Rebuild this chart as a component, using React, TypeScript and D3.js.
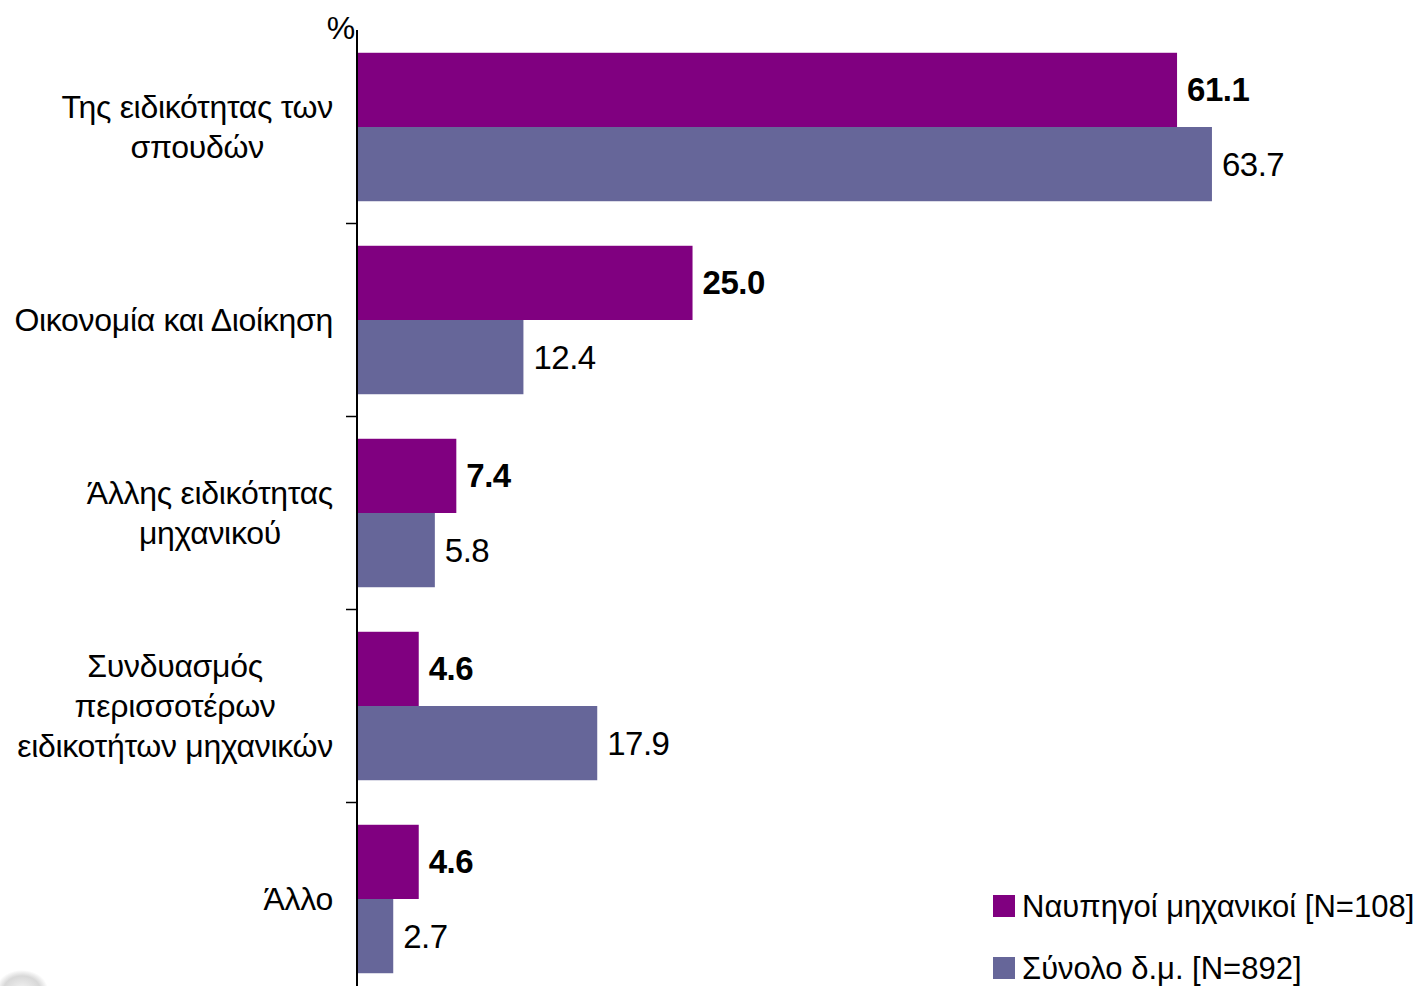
import React, { useEffect, useRef } from 'react';
import * as d3 from 'd3';

const categories: string[][] = [
    ['Της ειδικότητας των', 'σπουδών'],
    ['Οικονομία και Διοίκηση'],
    ['Άλλης ειδικότητας', 'μηχανικού'],
    ['Συνδυασμός', 'περισσοτέρων', 'ειδικοτήτων μηχανικών'],
    ['Άλλο'],
];
const seriesNames = ['Ναυπηγοί μηχανικοί [Ν=108]', 'Σύνολο δ.μ. [Ν=892]'];
const naval = [61.1, 25.0, 7.4, 4.6, 4.6];
const total = [63.7, 12.4, 5.8, 17.9, 2.7];
const colors = ['#800080', '#666699'];

const App: React.FC = () => {
    const svgRef = useRef<SVGSVGElement>(null);

    useEffect(() => {
        if (!svgRef.current) return;
        const svg = d3.select(svgRef.current);
        svg.selectAll('*').remove();

        const width = 1420;
        const height = 986;
        const font = '"Liberation Sans", Arial, sans-serif';
        const keys = categories.map((_, i) => String(i));

        // Scales
        const x = d3.scaleLinear().domain([0, 70]).range([357, 1296.5]);
        const y = d3.scaleBand<string>().domain(keys).range([30.5, 995.5]);
        const ySub = d3.scaleBand<number>()
            .domain([0, 1])
            .range([0, y.bandwidth()])
            .paddingInner(0)
            .paddingOuter(0.3);

        svg.attr('width', width).attr('height', height);

        // faint logo remnant in the bottom-left corner
        const defs = svg.append('defs');
        const grad = defs.append('radialGradient').attr('id', 'logoGrad');
        grad.append('stop').attr('offset', '0%').attr('stop-color', '#f4f4f4');
        grad.append('stop').attr('offset', '70%').attr('stop-color', '#d8d8d8');
        grad.append('stop').attr('offset', '100%').attr('stop-color', '#fff');
        svg.append('ellipse')
            .attr('cx', 22).attr('cy', 990)
            .attr('rx', 26).attr('ry', 20)
            .attr('fill', 'url(#logoGrad)');

        // Bars
        const groups = svg.selectAll('g.cat')
            .data(keys)
            .enter()
            .append('g')
            .attr('class', 'cat')
            .attr('transform', k => `translate(0, ${y(k)})`);

        [naval, total].forEach((values, s) => {
            groups.append('rect')
                .attr('x', x(0))
                .attr('y', ySub(s) as number)
                .attr('width', (_, i) => x(values[i]) - x(0))
                .attr('height', ySub.bandwidth())
                .attr('fill', colors[s]);

            groups.append('text')
                .attr('x', (_, i) => x(values[i]) + 10)
                .attr('y', (ySub(s) as number) + ySub.bandwidth() / 2)
                .attr('dominant-baseline', 'central')
                .attr('font-family', font)
                .attr('font-size', 33)
                .attr('letter-spacing', -0.5)
                .attr('font-weight', s === 0 ? 'bold' : 'normal')
                .attr('fill', '#000')
                .text((_, i) => values[i].toFixed(1));
        });

        // Axis line + ticks between categories
        svg.append('line')
            .attr('x1', x(0)).attr('x2', x(0))
            .attr('y1', 30).attr('y2', height)
            .attr('stroke', '#000').attr('stroke-width', 2);

        keys.slice(1).forEach(k => {
            svg.append('line')
                .attr('x1', x(0) - 11).attr('x2', x(0))
                .attr('y1', y(k) as number).attr('y2', y(k) as number)
                .attr('stroke', '#000').attr('stroke-width', 1.5);
        });

        svg.append('text')
            .attr('x', 341).attr('y', 39)
            .attr('text-anchor', 'middle')
            .attr('font-family', font)
            .attr('font-size', 32)
            .text('%');

        // Category labels: centred block, right edge near the axis
        const lineH = 40;
        categories.forEach((lines, i) => {
            const g = svg.append('g');
            const cy = (y(keys[i]) as number) + y.bandwidth() / 2;
            const texts = lines.map((line, j) =>
                g.append('text')
                    .attr('y', cy + (j - (lines.length - 1) / 2) * lineH)
                    .attr('dominant-baseline', 'central')
                    .attr('text-anchor', 'middle')
                    .attr('font-family', font)
                    .attr('font-size', 32)
                    .attr('letter-spacing', -0.3)
                    .text(line)
            );
            const maxW = d3.max(texts, t => (t.node() as SVGTextElement).getComputedTextLength()) || 0;
            texts.forEach(t => t.attr('x', 333 - maxW / 2));
        });

        // Legend
        seriesNames.forEach((name, s) => {
            const ly = 906 + s * 62;
            svg.append('rect')
                .attr('x', 993).attr('y', ly - 11)
                .attr('width', 22).attr('height', 22)
                .attr('fill', colors[s]);
            svg.append('text')
                .attr('x', 1022).attr('y', ly)
                .attr('dominant-baseline', 'central')
                .attr('font-family', font)
                .attr('font-size', 31)
                .attr('letter-spacing', 0)
                .text(name);
        });
    }, []);

    return (
        <svg ref={svgRef} style={{ position: 'absolute', left: 0, top: 0, background: '#fff' }}></svg>
    );
};

export default App;
